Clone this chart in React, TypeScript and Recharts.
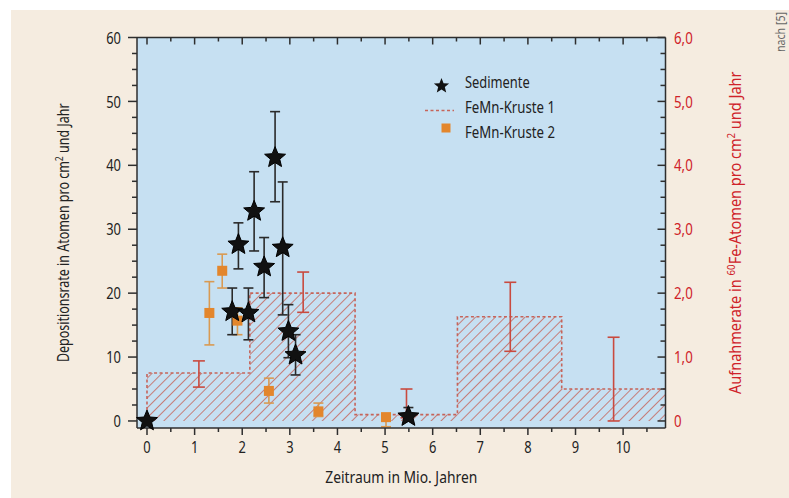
import React from "react";
import { ComposedChart, XAxis, YAxis, Area, Scatter, ErrorBar, CartesianGrid, Label } from "recharts";

// Sedimente (stars), left axis, error bars as lower / upper bounds
const sedX = [0, 1.79, 1.92, 2.13, 2.25, 2.46, 2.69, 2.85, 2.97, 3.12, 5.49];
const sedY = [0, 17.1, 27.6, 16.9, 32.8, 24.1, 41.2, 27.1, 14.0, 10.3, 0.7];
const sedLo = [0, 13.5, 23.8, 12.7, 26.6, 19.3, 34.3, 16.6, 9.9, 7.2, 0];
const sedHi = [0, 20.8, 31.0, 20.8, 39.0, 28.7, 48.4, 37.4, 18.2, 13.5, 2.1];

// FeMn-Kruste 2 (squares), left axis
const k2X = [1.31, 1.58, 1.9, 2.56, 3.6, 5.02];
const k2Y = [16.9, 23.5, 15.7, 4.7, 1.5, 0.6];
const k2Lo = [11.9, 20.8, 13.5, 2.8, 0.7, -0.9];
const k2Hi = [21.8, 26.1, 17.7, 6.7, 2.8, 0.9];

// FeMn-Kruste 1 (hatched steps), right axis
const k1Edges = [0, 2.16, 4.37, 6.52, 8.71, 10.89];
const k1Rate = [0.75, 2.0, 0.1, 1.63, 0.5];
const k1ErrX = [1.09, 3.28, 5.45, 7.63, 9.8];
const k1ErrLo = [0.53, 1.7, 0.05, 1.09, 0.0];
const k1ErrHi = [0.94, 2.33, 0.5, 2.17, 1.31];

const xTicks = Array.from({ length: 22 }, (_, i) => i * 0.5);
const leftTicks = Array.from({ length: 25 }, (_, i) => i * 2.5);
const rightTicks = Array.from({ length: 25 }, (_, i) => i * 0.25);

const TXT: React.CSSProperties = { fontFamily: "'Noto Sans', 'DejaVu Sans', sans-serif" };
const AXIS = "#2e2e2e";
const RED = "#cf2229";
const HATCH = "#c6645a";
const BAR_RED = "#c94a3f";
const ORANGE = "#e3862c";
const ORANGE_BAR = "#d99a52";

const stepData = [
  { x: k1Edges[0], rate: 0 },
  ...k1Edges.map((e, i) => ({ x: e, rate: k1Rate[Math.min(i, k1Rate.length - 1)] })),
];
const sedData = sedX.map((x, i) => ({ x, y: sedY[i], err: [sedY[i] - sedLo[i], sedHi[i] - sedY[i]] }));
const k2Data = k2X.map((x, i) => ({ x, y: k2Y[i], err: [k2Y[i] - k2Lo[i], k2Hi[i] - k2Y[i]] }));
const k1ErrData = k1ErrX.map((x, i) => {
  const y = k1Rate[i];
  return { x, y, err: [y - k1ErrLo[i], k1ErrHi[i] - y] };
});

const isMajor = (v: number, step: number) => Math.abs(v / step - Math.round(v / step)) < 1e-6;

function starPath(cx: number, cy: number, R: number, r: number) {
  const pts: string[] = [];
  for (let i = 0; i < 10; i++) {
    const a = -Math.PI / 2 + (i * Math.PI) / 5;
    const rad = i % 2 === 0 ? R : r;
    pts.push(`${cx + rad * Math.cos(a)},${cy + rad * Math.sin(a)}`);
  }
  return `M${pts.join("L")}Z`;
}

// condensed look: the installed fonts are wide, so squeeze text horizontally
const SText = ({ x, y, sx = 0.76, rot = 0, children, ...rest }: any) => (
  <text x={0} y={0} transform={`translate(${x},${y}) rotate(${rot}) scale(${sx},1)`} style={TXT} {...rest}>
    {children}
  </text>
);

const StarShape = (p: any) => <path d={starPath(p.cx, p.cy, 11, 4.9)} fill="#111" stroke="#000" strokeWidth={1} />;
const SquareShape = (p: any) => <rect x={p.cx - 5} y={p.cy - 5} width={10} height={10} fill={ORANGE} />;
const NoShape = () => <g />;

const BottomTick = (p: any) => {
  const v = p.payload.value;
  const major = isMajor(v, 1);
  return (
    <g>
      <line x1={p.x} x2={p.x} y1={p.y} y2={p.y + (major ? 7 : 4)} stroke={AXIS} strokeWidth={1.5} />
      {major && (
        <SText x={p.x} y={p.y + 25} textAnchor="middle" fontSize={17} fill="#222">
          {v}
        </SText>
      )}
    </g>
  );
};

const TopTick = (p: any) => {
  const major = isMajor(p.payload.value, 1);
  return <line x1={p.x} x2={p.x} y1={p.y} y2={p.y + (major ? 7 : 4)} stroke={AXIS} strokeWidth={1.5} />;
};

const LeftTick = (p: any) => {
  const v = p.payload.value;
  const major = isMajor(v, 10);
  return (
    <g>
      <line x1={p.x - (major ? 9 : 5)} x2={p.x} y1={p.y} y2={p.y} stroke={AXIS} strokeWidth={1.5} />
      {major && (
        <SText x={p.x - 16} y={p.y} dy="0.36em" textAnchor="end" fontSize={17} fill="#222">
          {v}
        </SText>
      )}
    </g>
  );
};

const RightTick = (p: any) => {
  const v = p.payload.value;
  const major = isMajor(v, 1);
  return (
    <g>
      <line x1={p.x - (major ? 8 : 5)} x2={p.x} y1={p.y} y2={p.y} stroke={AXIS} strokeWidth={1.5} />
      {major && (
        <SText x={p.x + 8.5} y={p.y} dy="0.36em" textAnchor="start" fontSize={17} fill={RED} sx={0.78}>
          {v === 0 ? "0" : v.toFixed(1).replace(".", ",")}
        </SText>
      )}
    </g>
  );
};

const XTitle = (p: any) => {
  const vb = p.viewBox;
  return (
    <SText x={vb.x + vb.width / 2} y={vb.y + 55} textAnchor="middle" fontSize={16.5} fill="#222" sx={0.84}>
      Zeitraum in Mio. Jahren
    </SText>
  );
};

const LeftTitle = (p: any) => {
  const vb = p.viewBox;
  return (
    <SText
      x={vb.x + vb.width - 74}
      y={vb.y + vb.height / 2}
      rot={-90}
      sx={0.78}
      dy="0.35em"
      textAnchor="middle"
      fontSize={16}
      fill="#222"
    >
      Depositionsrate in Atomen pro cm
      <tspan dy={-6} fontSize={11}>2</tspan>
      <tspan dy={6}> und Jahr</tspan>
    </SText>
  );
};

const RightTitle = (p: any) => {
  const vb = p.viewBox;
  return (
    <SText
      x={vb.x + 69.5}
      y={vb.y + vb.height / 2}
      rot={-90}
      sx={0.88}
      dy="0.35em"
      textAnchor="middle"
      fontSize={16.5}
      fill={RED}
    >
      Aufnahmerate in{" "}
      <tspan dy={-6} fontSize={11}>60</tspan>
      <tspan dy={6}>Fe-Atomen pro cm</tspan>
      <tspan dy={-6} fontSize={11}>2</tspan>
      <tspan dy={6}> und Jahr</tspan>
    </SText>
  );
};

export default function App() {
  return (
    <div style={{ position: "absolute", left: 0, top: 0, width: 789, height: 498, background: "#fff", overflow: "hidden" }}>
      <div style={{ position: "absolute", left: 11, top: 10, right: 0, bottom: 0, background: "#f5ece0" }} />
      <div style={{ position: "absolute", left: 0, top: 0 }}>
        <ComposedChart
          width={789}
          height={498}
          data={stepData}
          margin={{ top: 36.5, right: 63.5, bottom: 30, left: 77 }}
        >
          <defs>
            <pattern id="hatch" patternUnits="userSpaceOnUse" width="7" height="7" patternTransform="rotate(45)">
              <line x1="0" y1="0" x2="0" y2="7" stroke={HATCH} strokeWidth="1.6" />
            </pattern>
          </defs>
          <CartesianGrid horizontal={false} vertical={false} fill="#c6e0f2" fillOpacity={1} stroke="none" />
          <XAxis
            dataKey="x"
            type="number"
            domain={[-0.21, 10.89]}
            ticks={xTicks}
            interval={0}
            height={40}
            tickSize={0}
            tickMargin={0}
            tickLine={false}
            tick={BottomTick}
            axisLine={{ stroke: AXIS, strokeWidth: 1.5 }}
          >
            <Label content={XTitle} />
          </XAxis>
          <XAxis
            xAxisId="top"
            orientation="top"
            dataKey="x"
            type="number"
            domain={[-0.21, 10.89]}
            ticks={xTicks}
            interval={0}
            height={1}
            tickSize={0}
            tickMargin={0}
            tickLine={false}
            tick={TopTick}
            axisLine={{ stroke: AXIS, strokeWidth: 1.5 }}
          />
          <YAxis
            type="number"
            domain={[-1.1, 60]}
            ticks={leftTicks}
            interval={0}
            width={60}
            tickSize={0}
            tickMargin={0}
            tickLine={false}
            tick={LeftTick}
            axisLine={{ stroke: AXIS, strokeWidth: 1.5 }}
          >
            <Label content={LeftTitle} />
          </YAxis>
          <YAxis
            yAxisId="r"
            orientation="right"
            type="number"
            domain={[-0.11, 6]}
            ticks={rightTicks}
            interval={0}
            width={60}
            tickSize={0}
            tickMargin={0}
            tickLine={false}
            tick={RightTick}
            axisLine={{ stroke: AXIS, strokeWidth: 1.5 }}
          >
            <Label content={RightTitle} />
          </YAxis>
          <Area
            yAxisId="r"
            type="stepAfter"
            dataKey="rate"
            baseValue={0}
            fill="url(#hatch)"
            fillOpacity={1}
            stroke={HATCH}
            strokeWidth={1.6}
            strokeDasharray="3 2.5"
            dot={false}
            activeDot={false}
            isAnimationActive={false}
          />
          <Scatter yAxisId="r" data={k1ErrData} dataKey="y" shape={NoShape} isAnimationActive={false}>
            <ErrorBar dataKey="err" direction="y" width={6} stroke={BAR_RED} strokeWidth={1.6} />
          </Scatter>
          <Scatter data={k2Data} dataKey="y" shape={SquareShape} isAnimationActive={false}>
            <ErrorBar dataKey="err" direction="y" width={5} stroke={ORANGE_BAR} strokeWidth={1.6} />
          </Scatter>
          <Scatter data={sedData} dataKey="y" shape={StarShape} isAnimationActive={false}>
            <ErrorBar dataKey="err" direction="y" width={5} stroke="#2a2a2a" strokeWidth={1.6} />
          </Scatter>
        </ComposedChart>
      </div>
      <svg width={789} height={498} style={{ position: "absolute", left: 0, top: 0, pointerEvents: "none" }}>
        <g fontSize={16.5} fill="#222">
          <path d={starPath(441.5, 86, 8, 3.5)} fill="#111" />
          <SText x={465} y={86} dy="0.1em" sx={0.78}>Sedimente</SText>
          <line x1={425} x2={454} y1={110.5} y2={110.5} stroke={HATCH} strokeWidth={1.6} strokeDasharray="3 2.5" />
          <SText x={465} y={111} dy="0.1em" sx={0.8}>FeMn-Kruste 1</SText>
          <rect x={441.5} y={123.5} width={9} height={9} fill={ORANGE} />
          <SText x={465} y={136} dy="0.1em" sx={0.8}>FeMn-Kruste 2</SText>
        </g>
        <SText x={785} y={52} rot={-90} sx={0.85} fontSize={12.5} fill="#666">
          nach [5]
        </SText>
      </svg>
    </div>
  );
}
